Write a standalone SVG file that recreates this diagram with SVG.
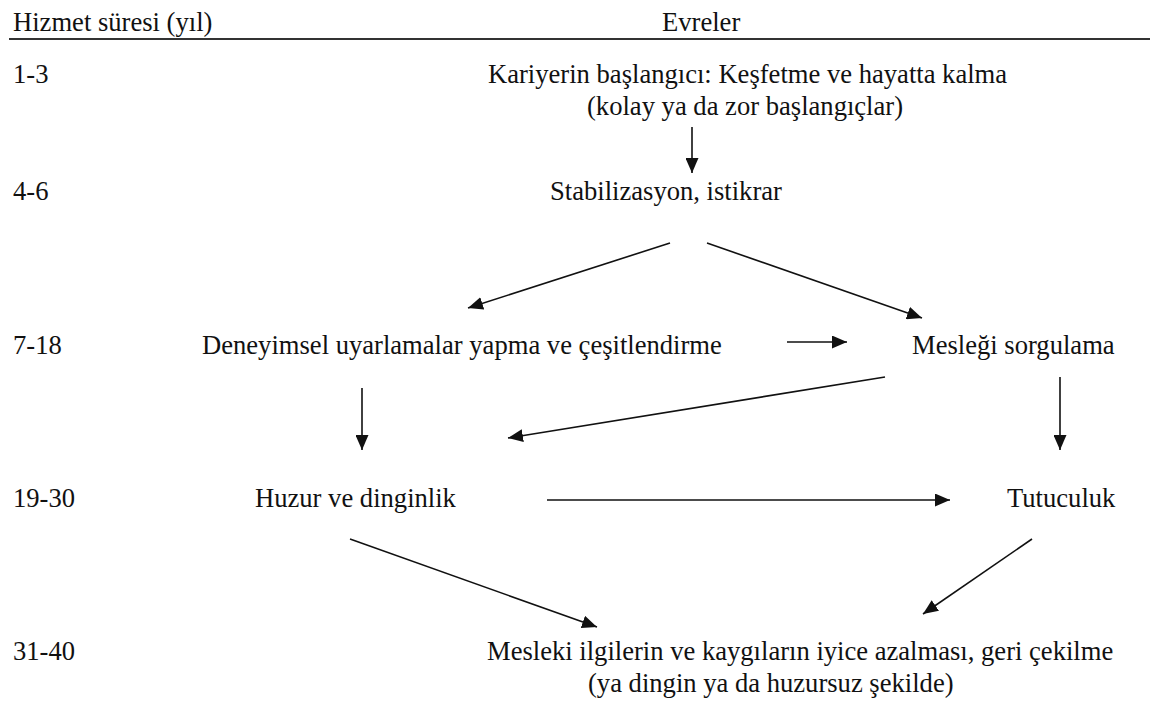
<svg xmlns="http://www.w3.org/2000/svg" width="1150" height="702" viewBox="0 0 1150 702">
<style>
text{font-family:'Liberation Serif','Times New Roman',serif;font-size:26.6px;fill:#111}
.c{stroke:#111;stroke-width:1.6;fill:none;marker-end:url(#ah)}
</style>
<defs>
<marker id="ah" markerUnits="userSpaceOnUse" markerWidth="16" markerHeight="13" refX="15" refY="6.5" orient="auto">
<path d="M0,0 L15,6.5 L0,13 z" fill="#111"/>
</marker>
</defs>
<rect width="1150" height="702" fill="#fff"/>
<g id="header">
<text x="13" y="31">Hizmet süresi (yıl)</text>
<text x="662" y="31">Evreler</text>
<line x1="9" y1="39" x2="1150" y2="39" stroke="#333" stroke-width="2"/>
</g>
<g id="years">
<text x="13" y="83">1-3</text>
<text x="13" y="200">4-6</text>
<text x="13" y="354">7-18</text>
<text x="13" y="507">19-30</text>
<text x="13" y="660">31-40</text>
</g>
<g id="n-baslangic">
<text x="488" y="83">Kariyerin başlangıcı: Keşfetme ve hayatta kalma</text>
<text x="587" y="115">(kolay ya da zor başlangıçlar)</text>
</g>
<g id="n-stabilizasyon"><text x="550" y="200">Stabilizasyon, istikrar</text></g>
<g id="n-deneyimsel"><text x="202" y="354">Deneyimsel uyarlamalar yapma ve çeşitlendirme</text></g>
<g id="n-sorgulama"><text x="912" y="354">Mesleği sorgulama</text></g>
<g id="n-huzur"><text x="255" y="507">Huzur ve dinginlik</text></g>
<g id="n-tutuculuk"><text x="1007" y="507">Tutuculuk</text></g>
<g id="n-geri-cekilme">
<text x="487" y="660">Mesleki ilgilerin ve kaygıların iyice azalması, geri çekilme</text>
<text x="588" y="692">(ya dingin ya da huzursuz şekilde)</text>
</g>
<g id="connectors">
<line class="c" x1="692" y1="127" x2="692" y2="173"/>
<line class="c" x1="670" y1="243" x2="468" y2="308"/>
<line class="c" x1="707" y1="243" x2="922" y2="318"/>
<line class="c" x1="787" y1="342" x2="847" y2="342"/>
<line class="c" x1="362" y1="388" x2="362" y2="450"/>
<line class="c" x1="885" y1="377" x2="508" y2="438"/>
<line class="c" x1="1060" y1="377" x2="1060" y2="450"/>
<line class="c" x1="547" y1="500" x2="950" y2="500"/>
<line class="c" x1="350" y1="539" x2="597" y2="627"/>
<line class="c" x1="1032" y1="539" x2="923" y2="614"/>
</g>
</svg>
